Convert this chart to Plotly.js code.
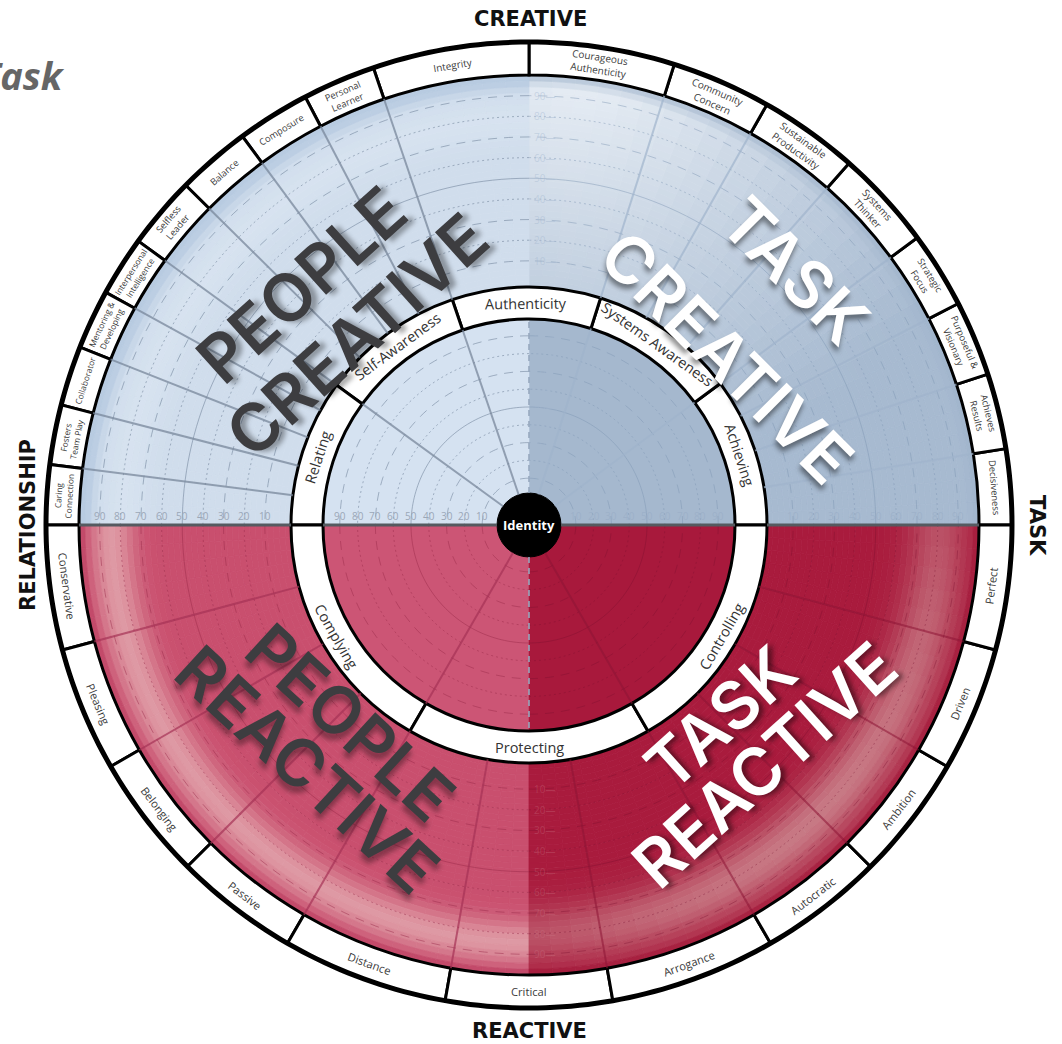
<!DOCTYPE html>
<html>
<head>
<meta charset="utf-8">
<script src="https://cdn.plot.ly/plotly-3.0.1.min.js"></script>
<style>
html,body{margin:0;padding:0;background:#ffffff;overflow:hidden;}
#chart{width:1062px;height:1044px;}
</style>
</head>
<body>
<div id="chart"></div>
<script>
// ---------------- data ----------------
// outer competency ring, counter-clockwise starting at 3 o'clock; spans in degrees
const outerLabels = ["Decisiveness","Achieves<br>Results","Purposeful &<br>Visionary","Strategic<br>Focus",
  "Systems<br>Thinker","Sustainable<br>Productivity","Community<br>Concern",
  "Courageous<br>Authenticity","Integrity",
  "Personal<br>Learner","Composure","Balance","Selfless<br>Leader",
  "Interpersonal<br>Intelligence","Mentoring &<br>Developing","Collaborator","Fosters<br>Team Play","Caring<br>Connection",
  "Conservative","Pleasing","Belonging","Passive",
  "Distance","Critical","Arrogance",
  "Autocratic","Ambition","Driven","Perfect"];
const outerSpans = [9.1,9.1,9.1,9.2, 12,12,12, 17.5,18.8, 8.8,8.8,8.9,8.7, 7.2,7.2,7.2,7.2,7.2, 15,15,15,15, 20,20,20, 15,15,15,15];
// inner dimension ring
const innerLabels = ["Achieving","Systems Awareness","Authenticity","Self-Awareness","Relating","Complying","Protecting","Controlling"];
const innerSpans = [36.5,36,36.3,35.2,36,60,60,60];
// quadrants (TR, TL, BL, BR)
const quadrantTitles = [["TASK","CREATIVE"],["PEOPLE","CREATIVE"],["PEOPLE","REACTIVE"],["TASK","REACTIVE"]];
const axisTitles = ["TASK","CREATIVE","RELATIONSHIP","REACTIVE"];
const scaleTicks = [10,20,30,40,50,60,70,80,90];
const centerLabel = "Identity";
const cornerLabel = "Task";

// ---------------- geometry & style ----------------
const W=1062,H=1044,CX=529,CY=525,HALF=490;
const R_OUT=483,R_LAB=450,RING_O=238,RING_I=206,R_ID=32;
const outerR = p => 243.5 + 2.065*p;
const innerR = p => 29 + 1.78*p;
const xd=[(CX-HALF)/W,(CX+HALF)/W];
const yd=[(H-CY-HALF)/H,(H-CY+HALF)/H];
const D2R=Math.PI/180;

function hex(c){return [parseInt(c.slice(1,3),16),parseInt(c.slice(3,5),16),parseInt(c.slice(5,7),16)];}
function mixA(a,b,t){t=Math.max(0,Math.min(1,t));return a.map((v,i)=>v+(b[i]-v)*t);}
function rgb(a){return 'rgb('+a.map(v=>Math.round(v)).join(',')+')';}
function smooth(e0,e1,x){let t=Math.max(0,Math.min(1,(x-e0)/(e1-e0)));return t*t*(3-2*t);}
function starts(sp){let a=0;return sp.map(s=>{const st=a;a+=s;return st;});}

function shadeOuter(q,r,th){
  const x=r*Math.cos(th*D2R), y=r*Math.sin(th*D2R);
  let c;
  if(q===0){
    c=hex('#a7bad0');
    const d=Math.hypot(x-60,y-485); let t=Math.max(0,1-d/430); t=Math.pow(t,1.1);
    c=mixA(c,hex('#eef3f9'),t);
    c=mixA(c,hex('#9fb3cb'),smooth(436,448,r)*0.6);
  } else if(q===1){
    c=hex('#d0ddec');
    c=mixA(c,hex('#dbe6f2'),0.6*Math.exp(-Math.pow((r-405)/20,2)));
    c=mixA(c,hex('#b8cbe1'),smooth(428,446,r));
  } else if(q===2){
    c=hex('#c94f6e');
    c=mixA(c,hex('#e2a6ad'),0.85*Math.exp(-Math.pow((r-418)/22,2)));
    c=mixA(c,hex('#bf4163'),smooth(438,450,r)*0.8);
  } else {
    c=hex('#a91b3d');
    const af=0.55+0.45*Math.sin(Math.min(1,Math.max(0,(360-th)/90))*Math.PI);
    c=mixA(c,hex('#cd8a91'),0.85*af*Math.exp(-Math.pow((r-410)/30,2)));
    c=mixA(c,hex('#a01637'),smooth(440,450,r)*0.6);
  }
  return rgb(c);
}

const traces=[];
const base={type:'barpolar',hoverinfo:'skip',showlegend:false};

// shaded outer bands
const NA=30, NR=36, dr=(R_LAB-RING_O)/NR;
const sh={theta:[],width:[],base:[],r:[],color:[]};
for(let q=0;q<4;q++){
  for(let i=0;i<NA;i++){
    const th=q*90+(i+0.5)*90/NA;
    for(let j=0;j<NR;j++){
      const r0=RING_O+j*dr;
      sh.theta.push(th); sh.width.push(90/NA); sh.base.push(r0); sh.r.push(dr);
      sh.color.push(shadeOuter(q,r0+dr/2,th));
    }
  }
}
traces.push(Object.assign({},base,{theta:sh.theta,width:sh.width,base:sh.base,r:sh.r,
  marker:{color:sh.color,line:{color:sh.color,width:0.8}}}));

// inner disks
const innerFill=['#a5b8ce','#d5e2f1','#cc5575','#a8193c'];
traces.push(Object.assign({},base,{theta:[45,135,225,315],width:[90,90,90,90],base:[0,0,0,0],r:[RING_I,RING_I,RING_I,RING_I],
  marker:{color:innerFill,line:{color:innerFill,width:0.5}}}));

// concentric scale circles
const gridCol=['rgba(125,148,178,0.45)','rgba(110,128,152,0.55)','rgba(150,40,72,0.45)','rgba(120,15,45,0.35)'];
function styleOf(p){return p===50?'solid':(p%20===0?'2px,3px':'9px,7px');}
for(let q=0;q<4;q++){
  ['solid','2px,3px','9px,7px'].forEach(ds=>{
    const th=[],rr=[];
    scaleTicks.forEach(p=>{
      if(styleOf(p)!==ds) return;
      [outerR(p),innerR(p)].forEach(rad=>{
        for(let a=q*90;a<=q*90+90+0.01;a+=1.5){th.push(a);rr.push(rad);}
        th.push(null);rr.push(null);
      });
    });
    traces.push({type:'scatterpolar',mode:'lines',theta:th,r:rr,connectgaps:false,hoverinfo:'skip',showlegend:false,
      line:{color:gridCol[q],width:1,dash:ds}});
  });
}

// radial lines at segment boundaries
const oSt=starts(outerSpans), iSt=starts(innerSpans);
const radCol=['rgba(160,180,204,0.7)','rgba(120,135,155,0.75)','rgba(165,50,85,0.7)','rgba(140,20,52,0.55)'];
for(let q=0;q<4;q++){
  const th=[],rr=[];
  oSt.forEach(a=>{ if(a>q*90+0.01 && a<q*90+89.99){th.push(a,a,null);rr.push(RING_O,R_LAB,null);} });
  iSt.forEach(a=>{ if(a>q*90+0.01 && a<q*90+89.99){th.push(a,a,null);rr.push(R_ID,RING_I,null);} });
  traces.push({type:'scatterpolar',mode:'lines',theta:th,r:rr,connectgaps:false,hoverinfo:'skip',showlegend:false,
    line:{color:radCol[q],width:2}});
}
// vertical faint dashed axis in the inner disk
traces.push({type:'scatterpolar',mode:'lines',theta:[90,90,null,270,270],r:[R_ID,RING_I,null,R_ID,RING_I],connectgaps:false,
  hoverinfo:'skip',showlegend:false,line:{color:'rgba(150,168,190,0.8)',width:2,dash:'6px,5px'}});
// horizontal divider
traces.push({type:'scatterpolar',mode:'lines',theta:[0,0,null,180,180,null,0,0,null,180,180],
  r:[R_ID,RING_I,null,R_ID,RING_I,null,RING_O,R_LAB,null,RING_O,R_LAB],connectgaps:false,
  hoverinfo:'skip',showlegend:false,line:{color:'#555a60',width:3}});

// inner white ring
traces.push(Object.assign({},base,{theta:innerSpans.map((s,i)=>iSt[i]+s/2),width:innerSpans,
  base:innerSpans.map(()=>RING_I),r:innerSpans.map(()=>RING_O-RING_I),
  marker:{color:'#ffffff',line:{color:'#000000',width:3}}}));
// outer label ring
traces.push(Object.assign({},base,{theta:outerSpans.map((s,i)=>oSt[i]+s/2),width:outerSpans,
  base:outerSpans.map(()=>R_LAB),r:outerSpans.map(()=>R_OUT-R_LAB),
  marker:{color:'#ffffff',line:{color:'#000000',width:3}}}));
// outer thick rim
const rimT=[],rimR=[];for(let a=0;a<=360;a+=1){rimT.push(a);rimR.push(R_OUT);}
traces.push({type:'scatterpolar',mode:'lines',theta:rimT,r:rimR,hoverinfo:'skip',showlegend:false,line:{color:'#000',width:5}});
// identity disk
traces.push(Object.assign({},base,{theta:[90,270],width:[180,180],base:[0,0],r:[R_ID,R_ID],
  marker:{color:'#000000',line:{color:'#000000',width:1}}}));
// dummy cartesian trace to establish the annotation coordinate frame
traces.push({type:'scatter',x:[0],y:[0],mode:'markers',marker:{opacity:0},hoverinfo:'skip',showlegend:false});

// ---------------- annotations ----------------
const ann=[];
function addA(x,y,text,o){ann.push(Object.assign({x:x,y:y,xref:'x',yref:'y',text:text,showarrow:false,xanchor:'center',yanchor:'middle'},o));}
function ang(th){th=((th%360)+360)%360;return th<180?90-th:270-th;}
// outer labels
outerLabels.forEach((t,i)=>{
  const th=oSt[i]+outerSpans[i]/2, r=(R_LAB+R_OUT)/2;
  const fs = th>180 ? 11.2 : (outerSpans[i]<8 ? 8.4 : (outerSpans[i]<9.5 ? 9.3 : 10));
  addA(r*Math.cos(th*D2R),r*Math.sin(th*D2R),t,{textangle:ang(th),font:{family:'Open Sans',size:fs,color:'#3a3a3a'}});
});
// inner labels
innerLabels.forEach((t,i)=>{
  const th=iSt[i]+innerSpans[i]/2, r=(RING_I+RING_O)/2;
  addA(r*Math.cos(th*D2R),r*Math.sin(th*D2R),t,{textangle:ang(th),font:{family:'Open Sans',size:14.5,color:'#333'}});
});
// scale numbers
scaleTicks.forEach(p=>{
  [outerR(p),innerR(p)].forEach((rad,k)=>{
    addA(-rad,9,String(p),{font:{family:'Open Sans',size:10,color:'#9ba7b7'}});
    addA(rad,9,String(p),{font:{family:'Open Sans',size:10,color:'rgba(150,170,196,0.55)'}});
    addA(15,rad,String(p)+'—',{font:{family:'Open Sans',size:10,color:'rgba(165,184,208,0.45)'}});
    if(k===0) addA(15,-rad,String(p)+'—',{font:{family:'Open Sans',size:10,color:'rgba(205,125,140,0.3)'}});
  });
});
// big quadrant titles
const bigPos=[ // [line1 x,y, line2 x,y, angle, color, shadow]
  [266,255,198,168,45,'#ffffff','rgba(0,0,0,0.45) 3px 4px 5px'],
  [-228,240,-172,190,-42,'#3d3d40','rgba(0,0,0,0.35) 4px 5px 5px'],
  [-179,-197,-222,-244,42.5,'#3d3d40','rgba(0,0,0,0.35) 4px 5px 5px'],
  [191,-193,235,-240,-42,'#ffffff','rgba(0,0,0,0.45) 3px 4px 5px']];
quadrantTitles.forEach((lines,q)=>{
  const b=bigPos[q];
  lines.forEach((t,k)=>{
    addA(b[k*2],b[k*2+1],t,{textangle:b[4],font:{family:'Inter',size:66,weight:600,color:b[5],shadow:b[6]}});
  });
});
// center
addA(0,0,centerLabel,{font:{family:'Open Sans',size:13,weight:700,color:'#ffffff'}});
// axis titles (paper coords)
const tf={family:'DejaVu Sans',size:21,weight:700,color:'#111'};
const pa={xref:'paper',yref:'paper',showarrow:false,xanchor:'center',yanchor:'middle',font:tf};
ann.push(Object.assign({},pa,{x:1037/W,y:(H-CY)/H,text:axisTitles[0],textangle:90}));
ann.push(Object.assign({},pa,{x:530/W,y:1-19/H,text:axisTitles[1]}));
ann.push(Object.assign({},pa,{x:28/W,y:(H-CY)/H,text:axisTitles[2],textangle:-90}));
ann.push(Object.assign({},pa,{x:529/W,y:1-1031/H,text:axisTitles[3]}));
ann.push({xref:'paper',yref:'paper',x:-22/W,y:1-75/H,xanchor:'left',yanchor:'middle',text:cornerLabel,showarrow:false,
  font:{family:'Open Sans',size:38,weight:700,style:'italic',color:'#666666'}});

const layout={
  width:W,height:H,margin:{l:0,r:0,t:0,b:0},paper_bgcolor:'#ffffff',plot_bgcolor:'rgba(0,0,0,0)',showlegend:false,
  polar:{domain:{x:xd,y:yd},bgcolor:'rgba(0,0,0,0)',barmode:'overlay',
    radialaxis:{range:[0,HALF],visible:false},
    angularaxis:{visible:false,direction:'counterclockwise',rotation:0}},
  xaxis:{domain:xd,range:[-HALF,HALF],visible:false,fixedrange:true},
  yaxis:{domain:yd,range:[-HALF,HALF],visible:false,fixedrange:true},
  annotations:ann
};
Plotly.newPlot('chart',traces,layout,{displayModeBar:false,staticPlot:true});
</script>
</body>
</html>
